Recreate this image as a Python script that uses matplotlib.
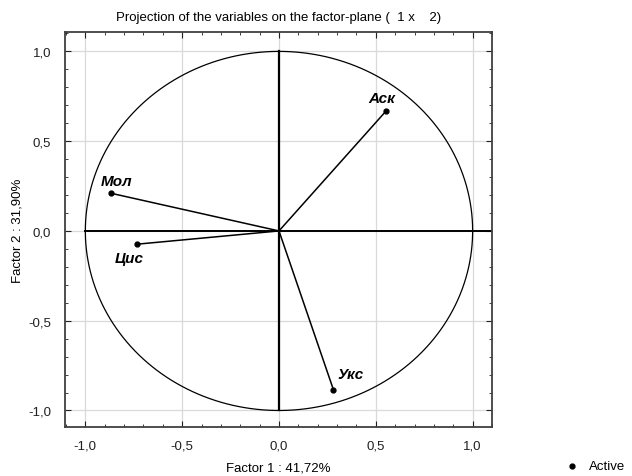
import numpy as np
import matplotlib
matplotlib.use("Agg")
import matplotlib.pyplot as plt
from matplotlib.ticker import FuncFormatter, MultipleLocator
from matplotlib.lines import Line2D

plt.rcParams['font.family'] = ['Liberation Sans', 'DejaVu Sans']

variables = ["Аск", "Мол", "Цис", "Укс"]
factor1 = [0.553, -0.868, -0.735, 0.281]
factor2 = [0.668, 0.210, -0.074, -0.884]
label_offsets = [(-3, 4), (-7, 4), (-16, -15), (3, 6)]
label_ha = ["center", "left", "left", "left"]

title = "Projection of the variables on the factor-plane (  1 x    2)"
xlabel = "Factor 1 : 41,72%"
ylabel = "Factor 2 : 31,90%"
legend_label = "Active"

fig = plt.figure(figsize=(6.32, 4.77), dpi=100)
ax = fig.add_axes([65/632, 1-428/477, (492-65)/632, (428-33)/477])

ax.set_xlim(-1.105, 1.10)
ax.set_ylim(-1.092, 1.108)

ax.xaxis.set_major_locator(MultipleLocator(0.5))
ax.yaxis.set_major_locator(MultipleLocator(0.5))
ax.xaxis.set_minor_locator(MultipleLocator(0.1))
ax.yaxis.set_minor_locator(MultipleLocator(0.1))
fmt = FuncFormatter(lambda v, p: f"{v:.1f}".replace(".", ",").replace("-0,0", "0,0"))
ax.xaxis.set_major_formatter(fmt)
ax.yaxis.set_major_formatter(fmt)
ax.tick_params(which='both', direction='in', top=True, right=True, labelsize=9.5, colors='#202020')
ax.tick_params(which='major', length=4, width=0.8)
ax.tick_params(which='minor', length=2, width=0.6)
ax.tick_params(axis='x', which='major', pad=9)
ax.tick_params(axis='y', which='major', pad=10)
ax.grid(True, which='major', color='#d9d9d9', linewidth=0.9)
ax.set_axisbelow(True)
for s in ax.spines.values():
    s.set_color('#404040')
    s.set_linewidth(1.3)

t = np.linspace(0, 2*np.pi, 400)
ax.plot(np.cos(t), np.sin(t), color='black', linewidth=0.9, zorder=2)
ax.plot([-1, 1.10], [0, 0], color='black', linewidth=1.4, zorder=2)
ax.plot([0, 0], [-1, 1], color='black', linewidth=1.6, zorder=2)

for name, x, y, off, ha in zip(variables, factor1, factor2, label_offsets, label_ha):
    ax.plot([0, x], [0, y], color='black', linewidth=1.1, zorder=3)
    ax.plot(x, y, 'o', color='black', markersize=3.5, zorder=4)
    ax.annotate(name, (x, y), xytext=off, textcoords='offset points',
                ha=ha, va='bottom', fontsize=11, fontweight='bold', fontstyle='italic')

ax.set_title(title, fontsize=9.5, pad=9)
ax.set_xlabel(xlabel, fontsize=9.5)
ax.xaxis.set_label_coords(0.5, -(469-428)/395, transform=ax.transAxes)
ax.xaxis.label.set_va('center')
ax.set_ylabel(ylabel, fontsize=9.5)
ax.yaxis.set_label_coords(-(65-18)/427, 0.5, transform=ax.transAxes)
ax.yaxis.label.set_va('center')

fig.add_artist(Line2D([572/632], [1-467/477], marker='o', color='black',
                      linestyle='none', markersize=3.5, transform=fig.transFigure))
fig.text(589/632, 1-467/477, legend_label, fontsize=9.5, ha='left', va='center')

fig.savefig("out.png", dpi=100)
